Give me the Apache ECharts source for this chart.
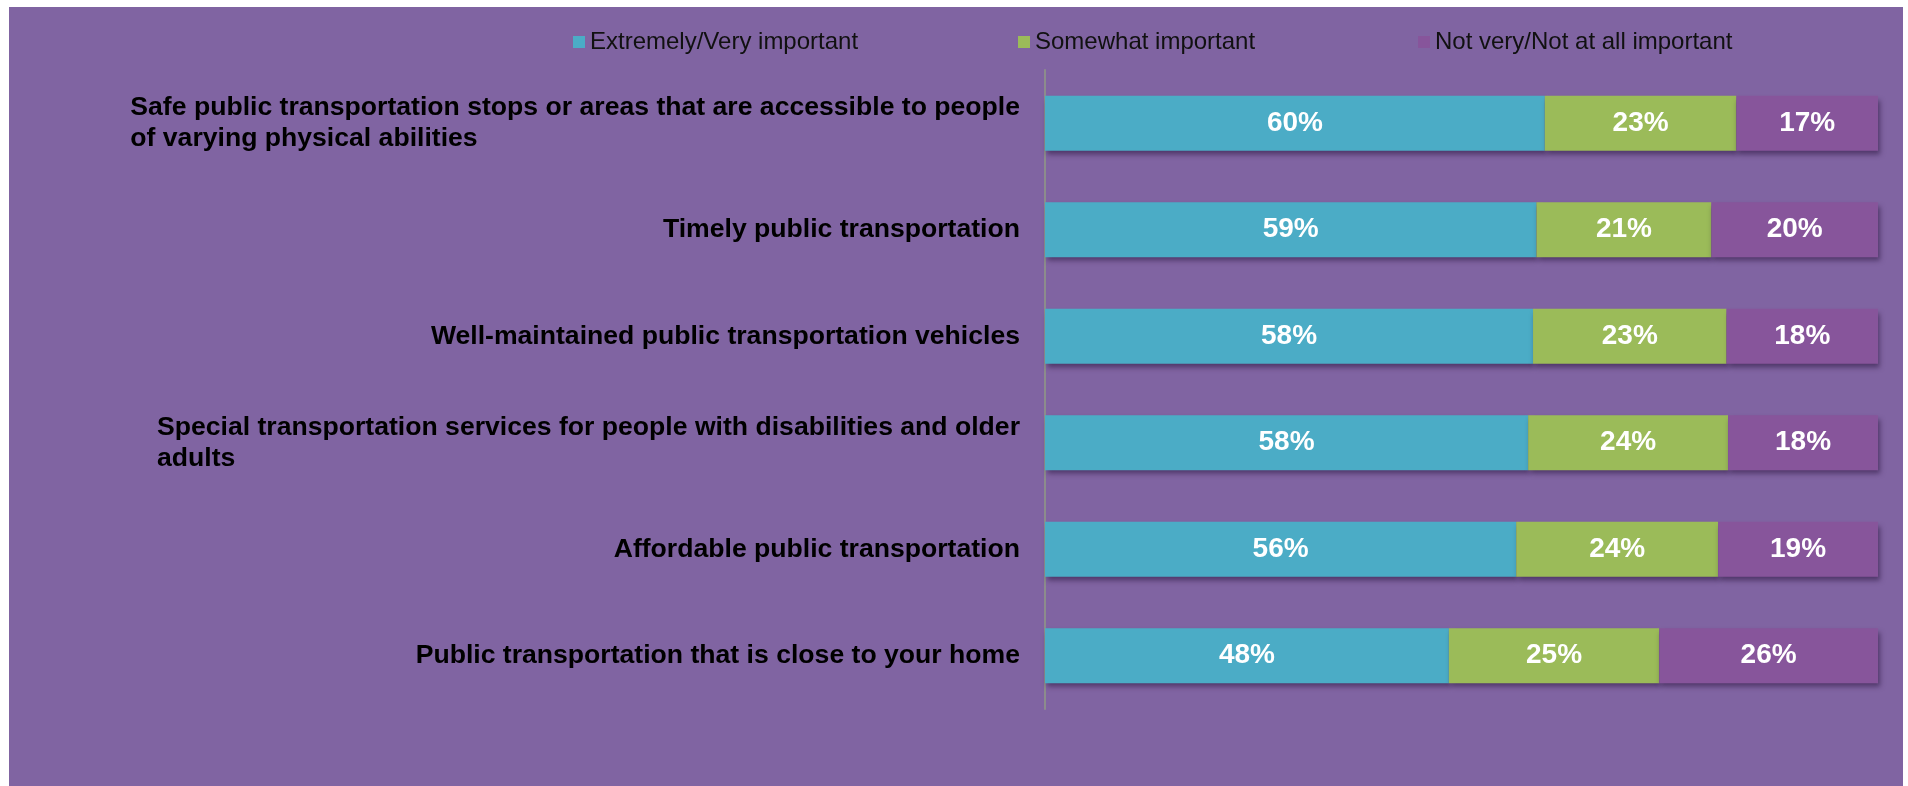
<!DOCTYPE html>
<html>
<head>
<meta charset="utf-8">
<script src="https://cdn.jsdelivr.net/npm/echarts@6/dist/echarts.min.js"></script>
<style>
  html, body { margin: 0; padding: 0; background: #ffffff; }
  #bg { position: absolute; left: 9px; top: 7px; width: 1894px; height: 779px; background: #8064A2; }
  #chart { position: absolute; left: 0; top: 0; width: 1908px; height: 786px; }
</style>
</head>
<body>
<div id="bg"></div>
<div id="chart"></div>
<script>
// ---- data ----
const categories = [
  "Safe public transportation stops or areas that are accessible to people\nof varying physical abilities",
  "Timely public transportation",
  "Well-maintained public transportation vehicles",
  "Special transportation services for people with disabilities and older\nadults",
  "Affordable public transportation",
  "Public transportation that is close to your home"
];
const seriesNames = ["Extremely/Very important", "Somewhat important", "Not very/Not at all important"];
const extremelyVery = [60, 59, 58, 58, 56, 48];
const somewhat = [23, 21, 23, 24, 24, 25];
const notVery = [17, 20, 18, 18, 19, 26];

// ---- build ----
const raw = [extremelyVery, somewhat, notVery];
const rowSums = categories.map((_, i) => raw.reduce((s, arr) => s + arr[i], 0));
const colors = ["#4BACC6", "#9BBB59", "#87559B"];
const FONT = "'Liberation Sans', Arial, sans-serif";

const chart = echarts.init(document.getElementById('chart'), null, { renderer: 'canvas' });

const series = raw.map((arr, si) => ({
  name: seriesNames[si],
  type: 'bar',
  stack: 'total',
  barWidth: 55,
  data: arr.map((v, i) => ({ value: v / rowSums[i] * 100, raw: v })),
  itemStyle: {
    color: colors[si],
    shadowColor: 'rgba(40,20,60,0.55)',
    shadowBlur: 5,
    shadowOffsetX: 2,
    shadowOffsetY: 4
  },
  label: {
    show: true,
    position: 'inside',
    color: '#ffffff',
    fontFamily: FONT,
    fontWeight: 'bold',
    fontSize: 28,
    formatter: p => p.data.raw + '%'
  }
}));

const legendBase = {
  orient: 'horizontal',
  top: 30,
  padding: 0,
  itemWidth: 12,
  itemHeight: 12,
  icon: 'rect',
  textStyle: { fontFamily: FONT, fontSize: 24, color: '#111111' }
};

chart.setOption({
  backgroundColor: 'transparent',
  animation: false,
  legend: [
    Object.assign({}, legendBase, { left: 573, data: [seriesNames[0]] }),
    Object.assign({}, legendBase, { left: 1018, data: [seriesNames[1]] }),
    Object.assign({}, legendBase, { left: 1418, data: [seriesNames[2]] })
  ],
  grid: { left: 1045, right: 30, top: 70, bottom: 77, containLabel: false },
  xAxis: {
    type: 'value',
    min: 0,
    max: 100,
    show: false,
    splitLine: { show: false }
  },
  yAxis: {
    type: 'category',
    inverse: true,
    data: categories,
    axisLine: { show: true, lineStyle: { color: '#8C8C8C', width: 2 } },
    axisTick: { show: false },
    axisLabel: {
      margin: 25,
      align: 'right',
      formatter: v => v.split('\n').map(l => '{a|' + l + '}').join('\n'),
      rich: {
        a: { fontFamily: FONT, fontWeight: 'bold', fontSize: 26.6, color: '#000000', lineHeight: 31, align: 'left' }
      }
    }
  },
  series: series
});
</script>
</body>
</html>
